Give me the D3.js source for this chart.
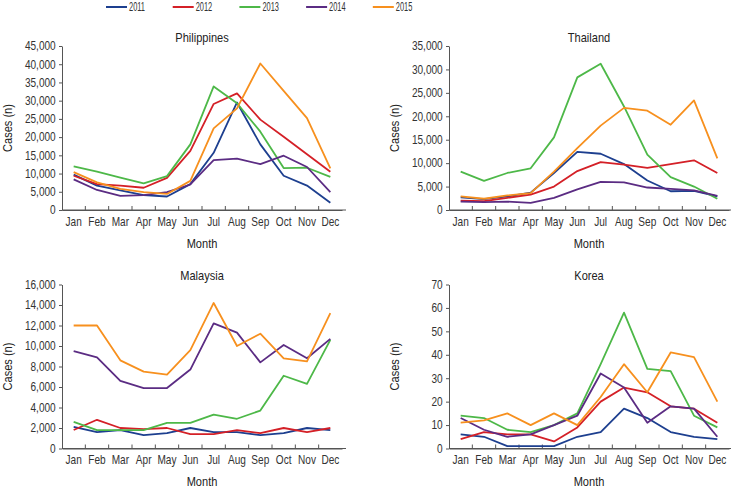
<!DOCTYPE html>
<html>
<head>
<meta charset="utf-8">
<script src="https://cdn.jsdelivr.net/npm/d3@7"></script>
<style>
  html, body { margin: 0; padding: 0; background: #fff; }
  svg { display: block; font-family: "Liberation Sans", Arial, sans-serif; }
  .axis path, .axis line { stroke: #555; stroke-width: 1; }
  .axis text { fill: #333; font-size: 12px; }
  .title, .xlabel, .ylabel { fill: #222; font-size: 13px; }
  .legend text { fill: #333; font-size: 12px; }
</style>
</head>
<body>
<svg id="chart" width="731" height="488"></svg>
<script>
const months = ["Jan","Feb","Mar","Apr","May","Jun","Jul","Aug","Sep","Oct","Nov","Dec"];
const years = ["2011","2012","2013","2014","2015"];
const yearColors = ["#1d3f8f","#d42027","#4db848","#5b2c83","#f7901e"];

// Philippines
const philippines2011 = [9700, 6700, 5400, 4100, 3700, 7100, 15700, 29500, 18000, 9400, 6700, 2000];
const philippines2012 = [9400, 7100, 6700, 6100, 8800, 16200, 29100, 32000, 24800, 20100, 15300, 10500];
const philippines2013 = [12000, 10500, 8900, 7300, 9300, 18000, 33900, 29300, 21500, 11500, 11600, 9100];
const philippines2014 = [8400, 5500, 3900, 4100, 4900, 7000, 13700, 14100, 12600, 14900, 11800, 4900];
const philippines2015 = [10400, 7600, 5800, 4900, 4400, 8000, 22400, 27900, 40200, 32700, 25200, 11400];
const philippinesTicks = [0, 5000, 10000, 15000, 20000, 25000, 30000, 35000, 40000, 45000];

// Thailand
const thailand2011 = [2700, 2300, 2900, 3700, 7900, 12400, 12000, 9800, 6300, 4000, 4100, 2900];
const thailand2012 = [2000, 1900, 2600, 3300, 5000, 8300, 10200, 9700, 9000, 9800, 10600, 7900];
const thailand2013 = [8200, 6200, 7900, 8900, 15500, 28300, 31200, 22100, 11800, 7000, 5000, 2400];
const thailand2014 = [1800, 1700, 1800, 1500, 2600, 4400, 6000, 5900, 4800, 4500, 4200, 3000];
const thailand2015 = [2900, 2400, 3100, 3600, 8200, 13200, 18000, 21800, 21200, 18200, 23400, 11000];
const thailandTicks = [0, 5000, 10000, 15000, 20000, 25000, 30000, 35000];

// Malaysia
const malaysia2011 = [2100, 1600, 1800, 1300, 1500, 2000, 1600, 1600, 1300, 1500, 2000, 1800];
const malaysia2012 = [1800, 2800, 2000, 1900, 2000, 1400, 1400, 1800, 1500, 2000, 1600, 2000];
const malaysia2013 = [2600, 1800, 1800, 1800, 2500, 2500, 3300, 2900, 3700, 7100, 6300, 10600];
const malaysia2014 = [9500, 8900, 6600, 5900, 5900, 7700, 12200, 11300, 8400, 10100, 8800, 10700];
const malaysia2015 = [12000, 12000, 8600, 7500, 7200, 9600, 14200, 10000, 11200, 8800, 8500, 13200];
const malaysiaTicks = [0, 2000, 4000, 6000, 8000, 10000, 12000, 14000, 16000];

// Korea
const korea2011 = [6, 5, 1, 1, 1, 5, 7, 17, 13, 7, 5, 4];
const korea2012 = [4, 7, 6, 6, 3, 9, 20, 26, 24, 18, 17, 11];
const korea2013 = [14, 13, 8, 7, 10, 15, 36, 58, 34, 33, 14, 9];
const korea2014 = [13, 8, 5, 6, 10, 14, 32, 26, 11, 18, 17, 5];
const korea2015 = [11, 12, 15, 10, 15, 10, 22, 36, 24, 41, 39, 20];
const koreaTicks = [0, 10, 20, 30, 40, 50, 60, 70];

const panels = [
  { title: "Philippines", series: [philippines2011, philippines2012, philippines2013, philippines2014, philippines2015], ticks: philippinesTicks, left: 62, top: 46 },
  { title: "Thailand", series: [thailand2011, thailand2012, thailand2013, thailand2014, thailand2015], ticks: thailandTicks, left: 449, top: 46 },
  { title: "Malaysia", series: [malaysia2011, malaysia2012, malaysia2013, malaysia2014, malaysia2015], ticks: malaysiaTicks, left: 62, top: 284.5 },
  { title: "Korea", series: [korea2011, korea2012, korea2013, korea2014, korea2015], ticks: koreaTicks, left: 449, top: 284.5 }
];

const W = 280, H = 164;
const NARROW = 0.85;      // condensed look for labels
const TICK_NARROW = 0.84; // condensed look for tick labels
const LEG_NARROW = 0.62;
const svg = d3.select("#chart");

// helper: condensed text placed at (x, y)
function narrowText(parent, x, y, str, anchor, cls, sx, rotate) {
  const gg = parent.append("g").attr("transform", `translate(${x},${y})` + (rotate ? ` rotate(${rotate})` : ""));
  return gg.append("text").attr("class", cls).attr("text-anchor", anchor)
    .attr("transform", `scale(${sx},1)`).text(str);
}

// Legend
const legendX = d3.scaleBand().domain(years).range([106, 439.5]);
const legend = svg.append("g").attr("class", "legend");
years.forEach((yr, i) => {
  const gx = legendX(yr);
  legend.append("line").attr("x1", gx).attr("x2", gx + 21).attr("y1", 7).attr("y2", 7)
    .attr("stroke", yearColors[i]).attr("stroke-width", 2);
  narrowText(legend, gx + 23, 11.3, yr, "start", null, LEG_NARROW);
});

panels.forEach(p => {
  const g = svg.append("g").attr("transform", `translate(${p.left},${p.top})`);
  const x = d3.scaleBand().domain(months).range([0, W]).paddingInner(0).paddingOuter(0);
  const yMax = p.ticks[p.ticks.length - 1];
  const y = d3.scaleLinear().domain([0, yMax]).range([H, 0]);

  // y axis
  const ya = g.append("g").attr("class", "axis")
    .call(d3.axisLeft(y).tickValues(p.ticks).tickSize(3).tickSizeOuter(0).tickPadding(3).tickFormat(d3.format(",")));
  ya.selectAll(".tick text").attr("transform", `scale(${TICK_NARROW},1)`).attr("x", -7.5);

  // x axis (labels, with category boundaries as inward ticks)
  const xa = g.append("g").attr("class", "axis").attr("transform", `translate(0,${H})`)
    .call(d3.axisBottom(x).tickSize(0).tickSizeOuter(0).tickPadding(7));
  xa.selectAll(".tick text").attr("transform", `scale(${TICK_NARROW},1)`);
  xa.append("path").attr("d", `M0,0H${W + 4}`).attr("stroke", "#555");
  months.slice(1).forEach(m => {
    xa.append("line").attr("x1", x(m)).attr("x2", x(m)).attr("y1", 0).attr("y2", -4);
  });

  // lines
  const line = d3.line().x((d, i) => x(months[i]) + x.bandwidth() / 2).y(d => y(d));
  p.series.forEach((s, i) => {
    g.append("path").datum(s).attr("d", line).attr("fill", "none")
      .attr("stroke", yearColors[i]).attr("stroke-width", 1.8).attr("stroke-linejoin", "round");
  });

  // labels
  narrowText(g, W / 2, -4.5, p.title, "middle", "title", NARROW);
  narrowText(g, W / 2, H + 37.5, "Month", "middle", "xlabel", NARROW);
  narrowText(g, -50, H / 2, "Cases (n)", "middle", "ylabel", NARROW, -90);
});
</script>
</body>
</html>
